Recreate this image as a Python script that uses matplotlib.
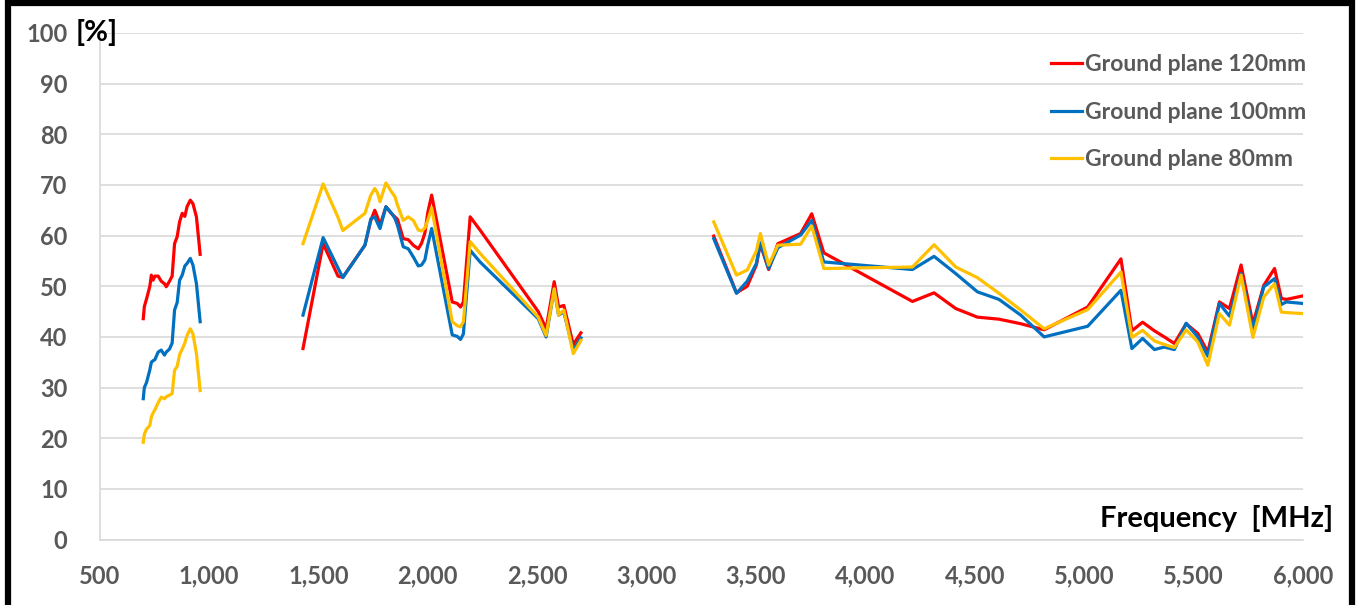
import matplotlib
matplotlib.use("Agg")
import matplotlib.pyplot as plt
from matplotlib.patches import Rectangle
from matplotlib.ticker import FuncFormatter
import numpy as np

# ================> Data
freq_low = [700, 705, 715, 730, 737, 745, 753, 768, 782, 797, 805, 820, 832,
            843, 855, 866, 878, 890, 900, 915, 927, 943, 960]
red_low = [43.6, 46, 47.5, 50, 52.2, 51.2, 52, 52, 51, 50.5, 49.9, 51, 52,
           58.4, 59.8, 62.7, 64.4, 63.8, 65.7, 67, 66.3, 63.7, 56.3]
blue_low = [27.8, 30, 31, 33.5, 35, 35.3, 35.5, 37, 37.4, 36.4, 37, 37.6, 38.8,
            45.3, 46.8, 51.2, 52.2, 54, 54.5, 55.5, 54.2, 50.5, 43]
yellow_low = [19.2, 20.8, 21.8, 22.5, 24.2, 25, 25.6, 27, 28.1, 27.8, 28.2, 28.5, 28.8,
              33.4, 34.2, 36.5, 37.6, 38.8, 40.3, 41.6, 40.6, 36.7, 29.4]

freq_mid = [1430, 1522, 1590, 1612, 1713, 1740, 1758, 1770, 1782, 1809, 1835, 1850,
            1862, 1888, 1911, 1934, 1957, 1972, 1987, 2000, 2018, 2112, 2135, 2150,
            2163, 2194, 2239, 2505, 2541, 2578, 2598, 2622, 2665, 2700]
red_mid = [37.7, 58.4, 52, 51.8, 58.1, 63, 65, 63.7, 62, 65.7, 64.3, 63.7,
           63.2, 59.4, 59.2, 58.1, 57.4, 58.5, 60.5, 64.5, 68, 46.9, 46.6, 45.9,
           46.9, 63.7, 61.1, 45, 41.6, 50.9, 45.9, 46.2, 38.5, 40.8]
blue_mid = [44.3, 59.6, 53.6, 51.7, 58.1, 63.3, 63.7, 62.5, 61.4, 65.7, 64.4, 63.4,
            62, 57.8, 57.4, 55.8, 54, 54.2, 55.2, 58.1, 61.4, 40.4, 40.1, 39.5,
            40.6, 57.1, 54.8, 43.6, 40, 49.5, 44.3, 44.9, 37.4, 39.8]
yellow_mid = [58.4, 70.2, 63.6, 61, 64.4, 68, 69.3, 68.5, 66.7, 70.4, 68.6, 67.7,
              66, 63, 63.7, 63, 61.1, 60.9, 61.5, 63, 65.5, 43, 42.2, 42,
              43, 58.8, 56.5, 43.9, 40.3, 49.5, 44.3, 45.3, 36.7, 39.3]

freq_high = [3307, 3411, 3460, 3502, 3520, 3558, 3600, 3704, 3755, 3810, 4215, 4314,
             4413, 4512, 4611, 4710, 4817, 5016, 5168, 5218, 5267, 5321, 5366, 5412,
             5466, 5519, 5565, 5618, 5664, 5717, 5771, 5821, 5870, 5901, 5924, 6000]
red_high = [59.9, 48.7, 50, 54.2, 58.3, 53.3, 58.4, 60.4, 64.3, 56.6, 47, 48.7,
            45.6, 43.9, 43.5, 42.6, 41.4, 45.9, 55.4, 41.2, 42.9, 41.2, 40, 38.7,
            42.6, 40.7, 37, 46.9, 45.6, 54.2, 42.6, 50.2, 53.5, 47.6, 47.4, 48.1]
blue_high = [59.4, 48.6, 51, 54.5, 58.6, 53.5, 57.6, 60.1, 63, 54.8, 53.3, 55.9,
             52.5, 48.9, 47.4, 44.3, 40, 42.1, 49.2, 37.7, 39.7, 37.5, 38, 37.5,
             42.7, 40, 36.2, 46.6, 44.1, 52.5, 41.6, 49.9, 51.5, 46.4, 46.9, 46.6]
yellow_high = [62.7, 52.2, 53.2, 57, 60.4, 54.2, 58.1, 58.3, 61.9, 53.5, 53.8, 58.2,
               53.8, 51.7, 48.6, 45.3, 41.6, 45.4, 52.8, 39.9, 41.3, 39.2, 38.5, 37.9,
               41.4, 39, 34.4, 44.6, 42.3, 52.2, 39.9, 47.9, 50.5, 44.9, 44.8, 44.6]

labels = ["Ground plane 120mm", "Ground plane 100mm", "Ground plane 80mm"]
colors = ["#FF0000", "#0070C0", "#FFC000"]

# ================> Plot
plt.rcParams['font.family'] = ['Lato', 'DejaVu Sans']
fig = plt.figure(figsize=(13.59, 6.05), dpi=100)
ax = fig.add_axes([99.5 / 1359, 1 - 539.5 / 605, (1303 - 99.5) / 1359, (539.5 - 33) / 605])

series = [(red_low, red_mid, red_high), (blue_low, blue_mid, blue_high),
          (yellow_low, yellow_mid, yellow_high)]
for (low, mid, high), color, label in zip(series, colors, labels):
    ax.plot(freq_low, low, color=color, lw=2.3, label=label, solid_joinstyle='round')
    ax.plot(freq_mid, mid, color=color, lw=2.3, solid_joinstyle='round')
    ax.plot(freq_high, high, color=color, lw=2.3, solid_joinstyle='round')

ax.set_xlim(500, 6000)
ax.set_ylim(0, 100)
ax.set_xticks(np.arange(500, 6001, 500))
ax.set_yticks(np.arange(0, 101, 10))
ax.xaxis.set_major_formatter(FuncFormatter(lambda v, p: f"{int(v):,}"))
ax.grid(axis='y', color='#d9d9d9', lw=1.2)
ax.set_axisbelow(True)
for side in ['top', 'right']:
    ax.spines[side].set_visible(False)
ax.spines['left'].set_color('#d9d9d9')
ax.spines['bottom'].set_color('#d9d9d9')
ax.spines['left'].set_linewidth(1.2)
ax.spines['bottom'].set_linewidth(1.2)
ax.tick_params(length=0, labelsize=17, labelcolor='#595959')
ax.tick_params(axis='y', pad=23)
ax.tick_params(axis='x', pad=18)
for t in ax.get_xticklabels() + ax.get_yticklabels():
    t.set_fontweight('bold')

leg = ax.legend(loc='upper right', bbox_to_anchor=(1.010, 0.976), frameon=False,
                handlelength=1.35, handletextpad=0.1, labelspacing=1.15,
                prop={'weight': 'bold', 'size': 16.5}, borderaxespad=0.0)
for t in leg.get_texts():
    t.set_color('#595959')

fig.text(1333 / 1359, 1 - 519 / 605, "Frequency  [MHz]", ha='right', va='center',
         fontsize=21, fontweight='bold', color='black')
fig.text(97 / 1359, 1 - 32 / 605, "[%]", ha='center', va='center',
         fontsize=21, fontweight='bold', color='black')

# black frame around the picture (bottom is cut off in the original)
fig.patches.append(Rectangle((8 / 1359, -0.02), (1351.5 - 8) / 1359, 1.02 - 2.5 / 605,
                             transform=fig.transFigure, fill=False,
                             edgecolor='black', lw=4.5, zorder=10))

fig.savefig("out.png", dpi=100)
